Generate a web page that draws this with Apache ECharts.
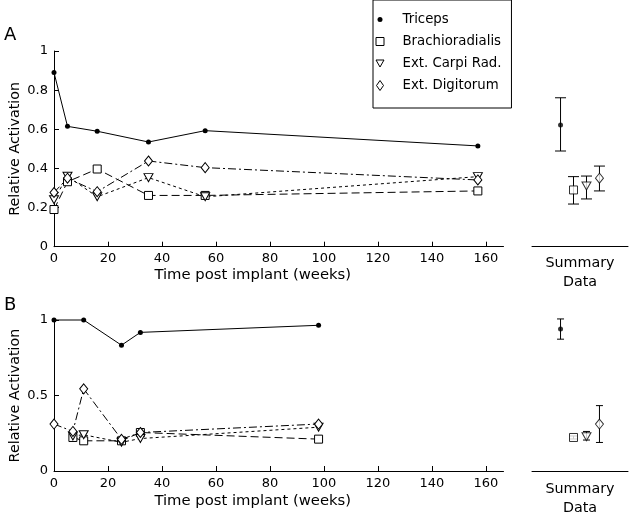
<!DOCTYPE html>
<html><head><meta charset="utf-8">
<script src="https://cdn.jsdelivr.net/npm/echarts@6/dist/echarts.min.js"></script>
<style>html,body{margin:0;padding:0;background:#fff}#c{width:632px;height:514px}</style>
</head><body><div id="c"></div>
<script>
// ---------- data ----------
const seriesNames = ['Triceps', 'Brachioradialis', 'Ext. Carpi Rad.', 'Ext. Digitorum'];
// Panel A
const weeksA = [0, 5, 16, 35, 56, 157];
const tricepsA = [0.89, 0.615, 0.59, 0.535, 0.593, 0.515];
const brachioA = [0.19, 0.332, 0.397, 0.262, 0.262, 0.285];
const ecrA = [0.24, 0.36, 0.255, 0.353, 0.255, 0.358];
const edcA = [0.277, 0.35, 0.281, 0.438, 0.404, 0.341];
// Panel B
const weeksTricepsB = [0, 11, 25, 32, 98];
const tricepsB = [1.0, 1.0, 0.833, 0.918, 0.965];
const weeksEdcB = [0, 7, 11, 25, 32, 98];
const edcB = [0.311, 0.262, 0.544, 0.21, 0.255, 0.311];
const weeksOtherB = [7, 11, 25, 32, 98];
const brachioB = [0.222, 0.2, 0.2, 0.255, 0.211];
const ecrB = [0.232, 0.24, 0.19, 0.215, 0.29];
// Summary data (position, mean, low, high)
const summaryPos = [1, 2, 3, 4];
const sumMeanA = [0.622, 0.29, 0.31, 0.35];
const sumLowA = [0.489, 0.218, 0.244, 0.285];
const sumHighA = [0.761, 0.358, 0.361, 0.412];
const sumMeanB = [0.94, 0.222, 0.227, 0.311];
const sumLowB = [0.873, 0.212, 0.205, 0.189];
const sumHighB = [1.007, 0.232, 0.262, 0.433];
// tick labels
const xTicks = [0, 20, 40, 60, 80, 100, 120, 140, 160];

// ---------- styles ----------
const FONT = 'DejaVu Sans';
const triDown = 'path://M0,0L10,0L5,8.7Z';
const symbols = ['circle', 'rect', triDown, 'diamond'];
const symSizes = [5, 8, [9, 8], [8, 10]];
const dashes = ['solid', [8, 4], [3, 3], [8, 3, 2, 3]];
const fills = ['#000', '#fff', '#fff', '#fff'];
const legendIcons = [
  'path://M0,0M22,10M2,5A2.5,2.5,0,1,0,7,5A2.5,2.5,0,1,0,2,5Z',
  'path://M0,0M22,10M0.5,1L8.5,1L8.5,9L0.5,9Z',
  'path://M0,0M22,10M0.5,1.5L8.5,1.5L4.5,8.5Z',
  'path://M0,0M22,10M4.5,0L8,5L4.5,10L1,5Z'
];

function pairs(xs, ys) { return xs.map((x, i) => [x, ys[i]]); }

function lineSeries(k, xs, ys, axisIdx) {
  return {
    type: 'line', name: seriesNames[k], xAxisIndex: axisIdx, yAxisIndex: axisIdx,
    data: pairs(xs, ys), symbol: symbols[k], symbolSize: symSizes[k], showSymbol: true,
    clip: false, animation: false, z: 3,
    lineStyle: { color: '#000', width: 1, type: dashes[k] },
    itemStyle: { color: fills[k], borderColor: '#000', borderWidth: k === 0 ? 0 : 1 }
  };
}

function errSeries(axisIdx, lows, highs, cap) {
  return {
    type: 'custom', xAxisIndex: axisIdx, yAxisIndex: axisIdx, clip: false, animation: false,
    data: summaryPos.map((p, i) => [p, lows[i], highs[i]]),
    encode: { x: 0, y: [1, 2] },
    renderItem: function (params, api) {
      const x = api.value(0);
      const lo = api.coord([x, api.value(1)]);
      const hi = api.coord([x, api.value(2)]);
      const st = { stroke: '#000', lineWidth: 1 };
      return {
        type: 'group', children: [
          { type: 'line', shape: { x1: lo[0], y1: lo[1], x2: hi[0], y2: hi[1] }, style: st },
          { type: 'line', shape: { x1: lo[0] - cap, y1: lo[1], x2: lo[0] + cap, y2: lo[1] }, style: st },
          { type: 'line', shape: { x1: hi[0] - cap, y1: hi[1], x2: hi[0] + cap, y2: hi[1] }, style: st }
        ]
      };
    }
  };
}

function meanSeries(axisIdx, means) {
  return {
    type: 'scatter', xAxisIndex: axisIdx, yAxisIndex: axisIdx, clip: false, animation: false, z: 4,
    data: summaryPos.map((p, i) => ({
      value: [p, means[i]], symbol: symbols[i], symbolSize: symSizes[i],
      itemStyle: { color: fills[i], borderColor: '#000', borderWidth: i === 0 ? 0 : 1 }
    }))
  };
}

const axisLineBlack = { show: true, lineStyle: { color: '#000', width: 1 } };
const labelStyle = { color: '#000', fontSize: 13, fontFamily: FONT };
const nameStyle = { color: '#000', fontSize: 14.3, fontFamily: FONT };

function mainX(grid, extra) {
  return {
    type: 'value', gridIndex: grid, min: 0, max: 166.5,
    axisLine: axisLineBlack,
    axisTick: { show: true, inside: true, length: 5, lineStyle: { color: '#000' }, customValues: xTicks },
    axisLabel: Object.assign({ margin: 5 + extra, customValues: xTicks }, labelStyle),
    splitLine: { show: false },
    name: 'Time post implant (weeks)', nameLocation: 'middle', nameGap: 21 + extra,
    nameMoveOverlap: false,
    nameTextStyle: Object.assign({ padding: [0, 52, 0, 0] }, nameStyle, { fontSize: 14.8 })
  };
}
function sumX(grid, extra) {
  return {
    type: 'value', gridIndex: grid, min: -1.2, max: 6.2,
    axisLine: axisLineBlack, axisTick: { show: false }, axisLabel: { show: false },
    splitLine: { show: false },
    name: 'Summary\nData', nameLocation: 'middle', nameGap: 7 + extra,
    nameMoveOverlap: false,
    nameTextStyle: Object.assign({ lineHeight: 19 }, nameStyle)
  };
}
function mainY(grid, interval) {
  return {
    type: 'value', gridIndex: grid, min: 0, max: 1, interval: interval,
    axisLine: axisLineBlack,
    axisTick: { show: true, inside: true, length: 5, lineStyle: { color: '#000' } },
    axisLabel: Object.assign({ margin: 6 }, labelStyle),
    splitLine: { show: false },
    name: 'Relative Activation', nameLocation: 'middle', nameGap: 32,
    nameMoveOverlap: false,
    nameTextStyle: nameStyle
  };
}
function sumY(grid) {
  return { type: 'value', gridIndex: grid, min: 0, max: 1, show: false, splitLine: { show: false } };
}

const option = {
  animation: false,
  backgroundColor: '#fff',
  textStyle: { fontFamily: FONT, color: '#000' },
  title: [
    { text: 'A', left: 4, top: 26, padding: 0, textStyle: { fontSize: 18, fontWeight: 'normal', color: '#000', fontFamily: FONT } },
    { text: 'B', left: 4, top: 296, padding: 0, textStyle: { fontSize: 18, fontWeight: 'normal', color: '#000', fontFamily: FONT } }
  ],
  legend: {
    orient: 'vertical', left: 373, top: 0,
    padding: [12.5, 10, 15.5, 2], itemGap: 8, itemWidth: 22, itemHeight: 10,
    borderColor: '#000', borderWidth: 1, backgroundColor: '#fff',
    textStyle: { fontSize: 13.3, color: '#000', fontFamily: FONT, lineHeight: 14 },
    selectedMode: false,
    data: seriesNames.map((n, k) => ({
      name: n, icon: legendIcons[k],
      itemStyle: { color: fills[k], borderColor: '#000', borderWidth: k === 0 ? 0 : 1 }
    }))
  },
  grid: [
    { left: 54, top: 51, width: 449.5, height: 195.7, outerBoundsMode: 'none', containLabel: false },
    { left: 532, top: 51, width: 96, height: 195.7, outerBoundsMode: 'none', containLabel: false },
    { left: 54, top: 320, width: 449.5, height: 151, outerBoundsMode: 'none', containLabel: false },
    { left: 532, top: 320, width: 96, height: 151, outerBoundsMode: 'none', containLabel: false }
  ],
  xAxis: [mainX(0, 0), sumX(1, 0), mainX(2, 1.5), sumX(3, 2)],
  yAxis: [mainY(0, 0.2), sumY(1), mainY(2, 0.5), sumY(3)],
  series: [
    lineSeries(0, weeksA, tricepsA, 0),
    lineSeries(1, weeksA, brachioA, 0),
    lineSeries(2, weeksA, ecrA, 0),
    lineSeries(3, weeksA, edcA, 0),
    lineSeries(0, weeksTricepsB, tricepsB, 2),
    lineSeries(1, weeksOtherB, brachioB, 2),
    lineSeries(2, weeksOtherB, ecrB, 2),
    lineSeries(3, weeksEdcB, edcB, 2),
    errSeries(1, sumLowA, sumHighA, 5.5),
    meanSeries(1, sumMeanA),
    errSeries(3, sumLowB, sumHighB, 3.5),
    meanSeries(3, sumMeanB)
  ]
};

const chart = echarts.init(document.getElementById('c'), null, { renderer: 'canvas' });
chart.setOption(option);
</script>
</body></html>
